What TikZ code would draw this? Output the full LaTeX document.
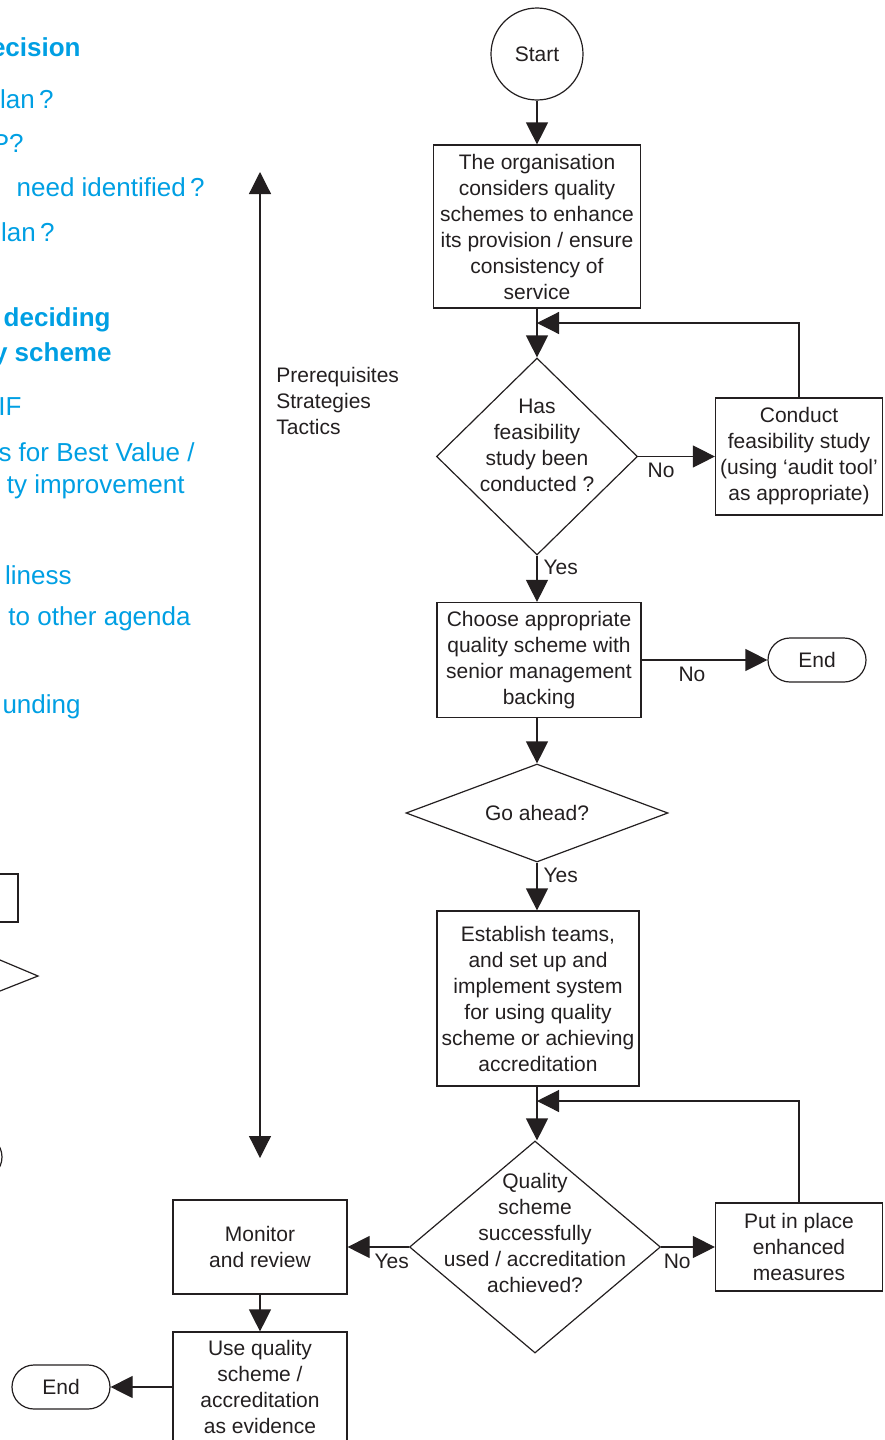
\documentclass[tikz,border=0pt]{standalone}
\usepackage{fontspec}
\setmainfont{Liberation Sans}
\usetikzlibrary{shapes.geometric,arrows.meta}

\definecolor{InkGray}{HTML}{231F20}
\definecolor{NoteBlue}{HTML}{009FE3}

\tikzstyle{Block}=[rectangle,draw=InkGray,line width=0.6pt,
  align=center,inner sep=0pt,font=\fontsize{10.5}{13}\selectfont]
\tikzstyle{Decision}=[diamond,draw=InkGray,line width=0.6pt,inner sep=0pt]
\tikzstyle{DecisionText}=[align=center,inner sep=0pt,font=\fontsize{10.5}{13}\selectfont]
\tikzstyle{Terminal}=[rectangle,rounded corners=11pt,draw=InkGray,line width=0.6pt,
  minimum width=49pt,minimum height=22pt,font=\fontsize{10.5}{13}\selectfont]
\tikzstyle{ArrowObject}=[InkGray,line width=0.6pt,-{Triangle[length=11pt,width=11pt]}]
\tikzstyle{Choice}=[font=\fontsize{10.5}{13}\selectfont,inner sep=3pt]
\tikzstyle{Note}=[NoteBlue,anchor=east,inner sep=0pt,font=\fontsize{13}{15}\selectfont]

\begin{document}
\begin{tikzpicture}[x=0.5pt, y=-0.5pt, color=InkGray]
		\useasboundingbox (0,0) rectangle (884,1440);
		\clip (0,0) rectangle (884,1440);
		
		% Notes column (cut at the left edge)
		\node[Note,font=\fontsize{13}{15}\selectfont\bfseries] (NoteHead) at (81,47) {ecision};
		\node[Note] (NoteA) at (54,99) {lan\,?};
		\node[Note] (NoteB) at (24,143) {P?};
		\node[Note] (NoteC) at (205,187) {need identified\,?};
		\node[Note] (NoteD) at (55,232) {lan\,?};
		\node[Note,font=\fontsize{13}{15}\selectfont\bfseries] (NoteHeadA) at (111,320) {deciding};
		\node[Note,font=\fontsize{13}{15}\selectfont\bfseries] (NoteHeadB) at (112,355) {y scheme};
		\node[Note] (NoteE) at (22,407) {IF};
		\node[Note] (NoteF) at (195,452) {s for Best Value /};
		\node[Note] (NoteG) at (185,487) {ty improvement};
		\node[Note] (NoteH) at (72,575) {liness};
		\node[Note] (NoteI) at (191,619) {to other agenda};
		\node[Note] (NoteJ) at (81,707) {unding};
		
		% Left flowchart fragments
		\draw[line width=0.6pt] (-20,874) rectangle (18,922);
		\draw[line width=0.6pt] (0,960) -- (38,976) -- (0,991);
		\draw[line width=0.6pt] (-20,1157) circle[radius=11pt];
		
		% Stage span
		\coordinate (SpanTop) at (260,172);
		\coordinate (SpanBot) at (260,1158);
		\draw[InkGray,line width=0.6pt,{Triangle[length=11pt,width=11pt]}-{Triangle[length=11pt,width=11pt]}]
		  (SpanTop) -- (SpanBot);
		\node[anchor=west,align=left,inner sep=0pt,font=\fontsize{10.5}{13}\selectfont]
		  (Stages) at (276,401) {Prerequisites\\Strategies\\Tactics};
		
		% Main flow
		\draw(537,54) node[circle,draw=InkGray,line width=0.6pt,minimum size=46pt,
		  font=\fontsize{10.5}{13}\selectfont] (Start) {Start};
		\draw(537,226.5) node[Block,minimum width=103.5pt,minimum height=81.5pt] (Org)
		  {The organisation\\considers quality\\schemes to enhance\\its provision / ensure\\consistency of\\service};
		\draw(537,456.5) node[Decision,minimum width=100.5pt,minimum height=98.5pt] (Q1) {};
		\node[DecisionText] (Q1Text) at (537,445) {Has\\feasibility\\study been\\conducted ?};
		\draw(799,456.5) node[Block,minimum width=83.5pt,minimum height=58.5pt] (Conduct)
		  {Conduct\\feasibility study\\(using ‘audit tool’\\as appropriate)};
		\draw(539,660) node[Block,minimum width=102pt,minimum height=57.5pt] (Choose)
		  {Choose appropriate\\quality scheme with\\senior management\\backing};
		\draw(817,660) node[Terminal] (EndA) {End};
		\draw(537,813) node[Decision,minimum width=131pt,minimum height=49pt] (Q2) {};
		\node[DecisionText] (Q2Text) at (537,813) {Go ahead?};
		\draw(538,998.5) node[Block,minimum width=101pt,minimum height=87.5pt] (Establish)
		  {Establish teams,\\and set up and\\implement system\\for using quality\\scheme or achieving\\accreditation};
		\draw(535,1247) node[Decision,minimum width=125.5pt,minimum height=106pt] (Q3) {};
		\node[DecisionText] (Q3Text) at (535,1233) {Quality\\scheme\\successfully\\used / accreditation\\achieved?};
		\draw(799,1247) node[Block,minimum width=83.5pt,minimum height=44pt] (Put)
		  {Put in place\\enhanced\\measures};
		\draw(260,1247) node[Block,minimum width=87pt,minimum height=47pt] (Monitor)
		  {Monitor\\and review};
		\draw(260,1387) node[Block,minimum width=87pt,minimum height=55pt] (Use)
		  {Use quality\\scheme /\\accreditation\\as evidence};
		\draw(61,1387) node[Terminal] (EndB) {End};
		
		% Loop joins
		\coordinate (LoopA) at (537,323);
		\coordinate (LoopB) at (537,1101);
		
		% Arrows
		\draw[ArrowObject] (Start.south) -- (Org.north);
		\draw[ArrowObject] (Org.south) -- (Q1.north);
		\draw[ArrowObject] (Q1.east) -- node[Choice,below,pos=0.3] (NoA) {No} (Conduct.west);
		\draw[ArrowObject] (Conduct.north) |- (LoopA);
		\draw[ArrowObject] (Q1.south) -- node[Choice,right,pos=0.25] (YesA) {Yes} (Q1.south |- Choose.north);
		\draw[ArrowObject] (Choose.east) -- node[Choice,below,pos=0.4] (NoB) {No} (EndA.west);
		\draw[ArrowObject] (Q1.south |- Choose.south) -- (Q2.north);
		\draw[ArrowObject] (Q2.south) -- node[Choice,right,pos=0.27] (YesB) {Yes} (Q2.south |- Establish.north);
		\draw[ArrowObject] (Q2.south |- Establish.south) -- (Q2.south |- Q3.north);
		\draw[ArrowObject] (Q3.east) -- node[Choice,below,pos=0.3] (NoC) {No} (Put.west);
		\draw[ArrowObject] (Put.north) |- (LoopB);
		\draw[ArrowObject] (Q3.west) -- node[Choice,below,pos=0.28] (YesC) {Yes} (Monitor.east);
		\draw[ArrowObject] (Monitor.south) -- (Use.north);
		\draw[ArrowObject] (Use.west) -- (EndB.east);
		
	\end{tikzpicture}
\end{document}
